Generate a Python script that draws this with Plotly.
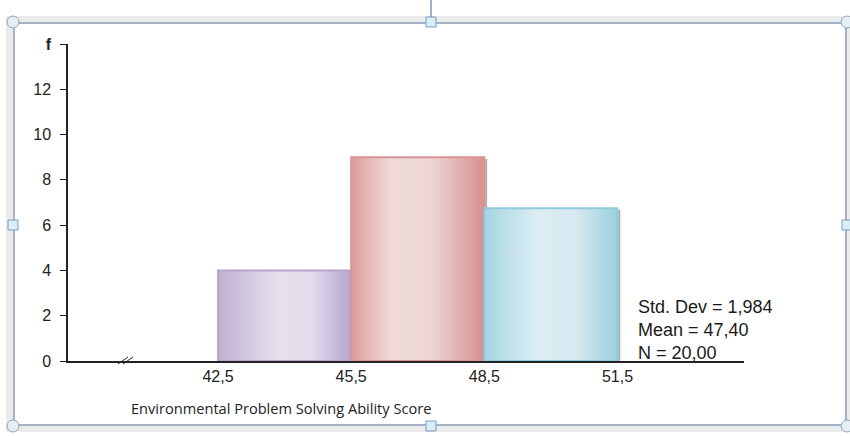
import plotly.graph_objects as go

# ---- data ----
bin_edges = [42.5, 45.5, 48.5, 51.5]
frequencies = [4, 9, 6.75]
tick_labels_x = ["42,5", "45,5", "48,5", "51,5"]
y_ticks = [0, 2, 4, 6, 8, 10, 12, 14]
y_tick_labels = ["0", "2", "4", "6", "8", "10", "12", "<b>f</b>"]
stats_lines = ["Std. Dev = 1,984", "Mean = 47,40", "N = 20,00"]
x_title = "Environmental Problem Solving Ability Score"

bar_scales = [
    [[0, "#bfb0d3"], [0.45, "#e6e0ee"], [0.7, "#e3dcec"], [1, "#b6a5cc"]],
    [[0, "#dc9c9c"], [0.3, "#f0dada"], [0.6, "#eed6d6"], [1, "#d88f8f"]],
    [[0, "#a6d5e1"], [0.4, "#dcedf3"], [0.7, "#d5e9f0"], [1, "#9ad0de"]],
]
bar_lines = ["#b7a4ce", "#d99595", "#8ecadb"]

# ---- layout geometry (pixels) ----
W, H = 850, 436
L, R, T, B = 68, 744, 44, 361
XMIN, XMAX = 39.12, 54.35


def px(x):
    return (x - L) / (R - L)


def py(y):
    return (B - y) / (B - T)


fig = go.Figure()

# soft shadows behind the bars
for i in range(len(frequencies)):
    x0, x1 = bin_edges[i], bin_edges[i + 1]
    f = frequencies[i]
    fig.add_trace(go.Scatter(
        x=[x1 + 0.04, x1 + 0.04], y=[f - 0.08, 0],
        mode="lines", line=dict(color="rgba(90,90,90,0.5)", width=2),
        hoverinfo="skip", showlegend=False,
    ))

for i in range(len(frequencies)):
    x0, x1 = bin_edges[i], bin_edges[i + 1]
    f = frequencies[i]
    fig.add_trace(go.Scatter(
        x=[x0, x0, x1, x1, x0], y=[0, f, f, 0, 0],
        mode="lines", fill="toself",
        fillgradient=dict(type="horizontal", colorscale=bar_scales[i]),
        line=dict(color=bar_lines[i], width=2),
        hoverinfo="skip", showlegend=False,
    ))

shapes = []
# frame: outer gray band, inner white box with blue-grey line
shapes.append(dict(type="rect", xref="paper", yref="paper", layer="below",
                   x0=px(6), x1=px(850), y0=py(432), y1=py(16),
                   fillcolor="#ebebec", line=dict(width=0)))
shapes.append(dict(type="rect", xref="paper", yref="paper", layer="below",
                   x0=px(14), x1=px(846), y0=py(425), y1=py(23),
                   fillcolor="white", line=dict(color="#a6b5c6", width=2)))
# rotation handle line
shapes.append(dict(type="line", xref="paper", yref="paper",
                   x0=px(431), x1=px(431), y0=py(0), y1=py(18),
                   line=dict(color="#7f9bb8", width=1.5)))
# square handles
for (hx, hy) in [(431, 22), (431, 426), (13, 225), (847, 225)]:
    shapes.append(dict(type="rect", xref="paper", yref="paper",
                       x0=px(hx - 5), x1=px(hx + 5), y0=py(hy + 5), y1=py(hy - 5),
                       fillcolor="#d8eef8", line=dict(color="#7f9db9", width=1)))
# corner circles
for (hx, hy) in [(13, 22), (847, 22), (13, 426), (847, 426)]:
    shapes.append(dict(type="circle", xref="paper", yref="paper",
                       x0=px(hx - 6), x1=px(hx + 6), y0=py(hy + 6), y1=py(hy - 6),
                       fillcolor="#e4eef3", line=dict(color="#90a6ba", width=1)))
# axis break marks
for dx in (0, 5):
    shapes.append(dict(type="line", xref="paper", yref="paper",
                       x0=px(118 + dx), x1=px(128 + dx), y0=py(364), y1=py(357),
                       line=dict(color="#222", width=1)))

annotations = []
for k, s in enumerate(stats_lines):
    annotations.append(dict(text=s, xref="paper", yref="paper",
                            x=px(636), y=py(307 + 23 * k), xanchor="left", yanchor="middle",
                            showarrow=False,
                            font=dict(family="Liberation Sans, Arial", size=18, color="#1a1a1a")))
annotations.append(dict(text=x_title, xref="paper", yref="paper",
                        x=px(129), y=py(408), xanchor="left", yanchor="middle",
                        showarrow=False,
                        font=dict(family="Open Sans, Liberation Sans", size=14.6, color="#222")))

fig.update_layout(
    width=W, height=H,
    margin=dict(l=L, r=W - R, t=T, b=H - B, pad=0),
    paper_bgcolor="white", plot_bgcolor="rgba(0,0,0,0)",
    shapes=shapes, annotations=annotations,
    xaxis=dict(range=[XMIN, XMAX], showgrid=False, zeroline=False,
               showline=True, linecolor="#222", linewidth=1.5,
               tickvals=bin_edges, ticktext=tick_labels_x, ticks="",
               tickfont=dict(family="Liberation Sans, Arial", size=16, color="#222"),
               fixedrange=True),
    yaxis=dict(range=[0, 14], showgrid=False, zeroline=False,
               showline=True, linecolor="#222", linewidth=1.5,
               tickvals=y_ticks, ticktext=y_tick_labels,
               ticks="outside", ticklen=6, tickcolor="#222", tickwidth=1,
               ticklabelstandoff=6,
               tickfont=dict(family="Liberation Sans, Arial", size=16, color="#222"),
               fixedrange=True),
    showlegend=False,
)

fig.write_html("out.html")
